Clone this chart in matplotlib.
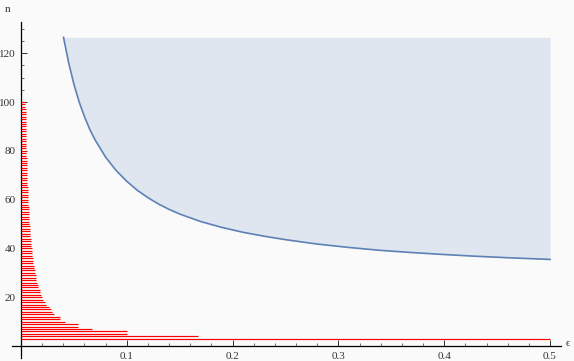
import matplotlib
matplotlib.use("Agg")
import matplotlib.pyplot as plt
from matplotlib.ticker import FixedLocator

# red bars: sample size n and the epsilon reached at that n
bar_n = list(range(3, 101))
bar_eps = [
    0.5, 0.167, 0.1, 0.1, 0.067, 0.054, 0.054, 0.042, 0.037, 0.037,
    0.031, 0.029, 0.028, 0.026, 0.024, 0.023, 0.021, 0.020, 0.019, 0.018,
    0.0175, 0.0165, 0.016, 0.015, 0.0145, 0.014, 0.0138, 0.0133, 0.013, 0.0125,
    0.012, 0.0118, 0.0115, 0.011, 0.0108, 0.0105, 0.0102, 0.010, 0.0098, 0.0095,
    0.0093, 0.0091, 0.0089, 0.0087, 0.0085, 0.0083, 0.0082, 0.008,
    0.0079, 0.0077, 0.0076, 0.0075, 0.0073, 0.0072, 0.0071, 0.007, 0.0069, 0.0068,
    0.0066, 0.0065, 0.0064, 0.0063, 0.0062, 0.0061, 0.006, 0.0059, 0.0058, 0.0057,
    0.0057, 0.0056, 0.0055, 0.0055, 0.0054, 0.0053, 0.0053, 0.0052, 0.0051, 0.0051,
    0.005, 0.005, 0.0049, 0.0049, 0.0048, 0.0048, 0.0047, 0.0047, 0.0046, 0.0046,
    0.0045, 0.0045, 0.0044, 0.0044, 0.0044, 0.0043, 0.0043, 0.0042, 0.0042, 0.0042,
]

# blue bound curve
curve_eps = [0.0402, 0.045, 0.05, 0.055, 0.06, 0.065, 0.07, 0.08, 0.09, 0.1,
             0.11, 0.12, 0.13, 0.14, 0.15, 0.17, 0.19, 0.21, 0.23, 0.25,
             0.28, 0.31, 0.34, 0.37, 0.4, 0.43, 0.46, 0.5]
curve_n = [126.5, 116.2, 107.3, 100.0, 94.0, 88.8, 84.5, 77.4, 71.9, 67.5,
           63.8, 60.8, 58.2, 56.0, 54.1, 51.0, 48.6, 46.6, 45.0, 43.6,
           41.8, 40.4, 39.2, 38.3, 37.5, 36.8, 36.2, 35.5]
region_top = 126.5

x_major = [0.1, 0.2, 0.3, 0.4, 0.5]
y_major = [20, 40, 60, 80, 100, 120]

plt.rcParams["font.family"] = ["Liberation Serif", "DejaVu Serif"]

fig = plt.figure(figsize=(5.74, 3.61), dpi=100, facecolor="#fafafa")
ax = fig.add_axes([12 / 574, 3 / 361, 549 / 574, 336 / 361])
ax.set_facecolor("#fafafa")

ax.hlines(bar_n, 0, bar_eps, color="red", lw=0.85, zorder=4)
ax.fill_between(curve_eps, curve_n, region_top, color="#dfe6f0", lw=0, zorder=1)
ax.plot(curve_eps, curve_n, color="#5e81b5", lw=1.2, zorder=3)

ax.set_xlim(-0.0085, 0.5104)
ax.set_ylim(-4.9, 132.8)

for s in ["top", "right"]:
    ax.spines[s].set_visible(False)
ax.spines["left"].set_position(("data", 0))
ax.spines["bottom"].set_position(("data", 0))
ax.spines["left"].set_linewidth(0.9)
ax.spines["bottom"].set_linewidth(0.9)

ax.xaxis.set_major_locator(FixedLocator(x_major))
ax.xaxis.set_minor_locator(FixedLocator([i * 0.02 for i in range(1, 26)]))
ax.yaxis.set_major_locator(FixedLocator(y_major))
ax.yaxis.set_minor_locator(FixedLocator([i * 5 for i in range(-1, 27)]))
ax.set_xticklabels(["0.1", "0.2", "0.3", "0.4", "0.5"])
ax.set_yticklabels([str(v) for v in y_major])
ax.tick_params(which="major", direction="in", length=4, width=0.7,
               labelsize=8, pad=4, colors="#333333", labelcolor="#333333")
ax.tick_params(which="minor", direction="in", length=2.2, width=0.5,
               colors="#333333")

fig.text(8 / 574, 1 - 10 / 361, "n", fontsize=8, ha="center", va="center",
         color="#333333")
fig.text(568 / 574, 1 - 344 / 361, "\u03f5", fontsize=8, ha="center",
         va="center", color="#333333")

fig.savefig("out.png", dpi=100, facecolor=fig.get_facecolor())
